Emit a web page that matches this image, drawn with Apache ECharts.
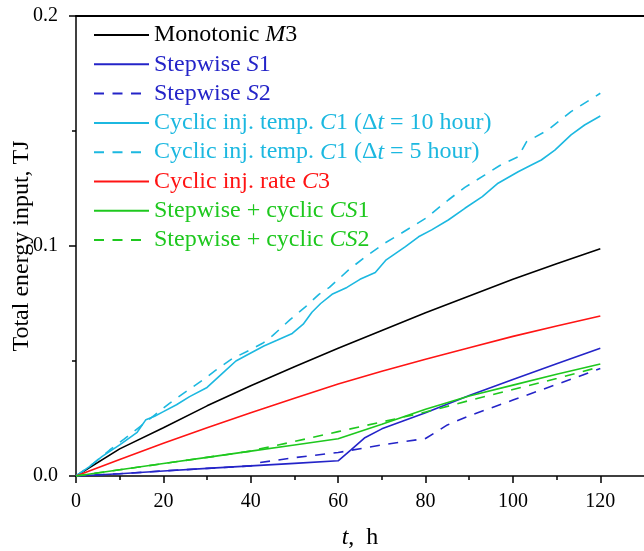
<!DOCTYPE html>
<html>
<head>
<meta charset="utf-8">
<script src="https://cdn.jsdelivr.net/npm/echarts@6/dist/echarts.min.js"></script>
<style>
html, body { margin: 0; padding: 0; background: #fff; overflow: hidden; }
#chart { width: 644px; height: 551px; }
</style>
</head>
<body>
<div id="chart"></div>
<script>
// Time grid (hours) shared by the smooth cases
const hours = [0, 10, 20, 30, 40, 50, 60, 70, 80, 90, 100, 110, 120];

// Monotonic M3
const m3Values = [0, 0.0118, 0.021, 0.0305, 0.0392, 0.0475, 0.0555, 0.0633, 0.071, 0.0783, 0.0855, 0.0923, 0.0988];

// Cyclic injection rate C3
const c3Values = [0, 0.0072, 0.0142, 0.021, 0.0275, 0.0338, 0.040, 0.0455, 0.0508, 0.0558, 0.0607, 0.0652, 0.0696];

// Stepwise S1
const s1Hours = [0, 10, 20, 30, 40, 50, 60, 63, 66, 70, 80, 90, 100, 110, 120];
const s1Values = [0, 0.001, 0.0022, 0.0033, 0.0044, 0.0055, 0.0066, 0.0115, 0.0165, 0.0205, 0.0275, 0.035, 0.042, 0.0488, 0.0555];

// Stepwise S2
const s2Hours = [0, 10, 20, 30, 40, 42, 50, 60, 66, 70, 80, 85, 90, 100, 110, 120];
const s2Values = [0, 0.001, 0.0022, 0.0033, 0.0044, 0.0058, 0.008, 0.0102, 0.0122, 0.0135, 0.0163, 0.0222, 0.0262, 0.033, 0.0398, 0.0467];

// Stepwise + cyclic CS1
const cs1Values = [0, 0.0027, 0.0054, 0.0081, 0.0108, 0.0135, 0.0162, 0.0225, 0.029, 0.0348, 0.0395, 0.0442, 0.0487];

// Stepwise + cyclic CS2
const cs2Hours = [0, 10, 20, 30, 40, 43, 50, 60, 70, 80, 90, 100, 110, 120];
const cs2Values = [0, 0.0027, 0.0054, 0.0081, 0.0108, 0.0122, 0.015, 0.0193, 0.0235, 0.0278, 0.0328, 0.0376, 0.0424, 0.0475];

// Cyclic injection temperature C1, period 10 h
const c1aHours = [0, 3, 6, 10, 14, 16, 18, 20, 23, 26, 30, 32, 34, 36.6, 40, 43, 46, 49.5, 52, 54, 56, 58.6, 62, 65, 68.5, 71, 75.4, 78.4, 81.4, 85.2, 89, 93, 96.6, 101.2, 104, 106.5, 109.6, 113.3, 116.4, 120];
const c1aValues = [0, 0.004, 0.0085, 0.0135, 0.019, 0.0245, 0.026, 0.028, 0.031, 0.0345, 0.0385, 0.042, 0.0455, 0.05, 0.0535, 0.0565, 0.059, 0.062, 0.066, 0.0712, 0.075, 0.079, 0.082, 0.0855, 0.0885, 0.094, 0.0997, 0.104, 0.107, 0.1113, 0.1164, 0.1215, 0.1273, 0.1323, 0.135, 0.1374, 0.1417, 0.1483, 0.1526, 0.1565];

// Cyclic injection temperature C1, period 5 h
const c1bHours = [0, 4, 7.7, 11, 14.6, 18, 21.4, 25, 29, 32, 35.9, 39, 42.7, 45, 49, 52.5, 55.6, 58, 62.4, 66, 70.8, 74, 76.9, 80, 85.2, 89, 93.6, 97, 101.2, 103.1, 108, 113.3, 120];
const c1bValues = [0, 0.0055, 0.0113, 0.016, 0.0214, 0.0265, 0.0316, 0.0365, 0.0417, 0.046, 0.0512, 0.054, 0.0577, 0.061, 0.068, 0.0735, 0.079, 0.082, 0.0896, 0.095, 0.1014, 0.105, 0.1084, 0.112, 0.12, 0.1255, 0.1309, 0.135, 0.1388, 0.1453, 0.1504, 0.1584, 0.1664];

// Axis tick positions
const xMajorTicks = [0, 20, 40, 60, 80, 100, 120];
const xMinorTicks = [10, 30, 50, 70, 90, 110];

const serif = '"Liberation Serif", "Times New Roman", serif';
const BLACK = '#000000', BLUE = '#2424c8', CYAN = '#1cb8e0', RED = '#ff1414', GREEN = '#1ec81e';
const DASH = [10, 8.5];

function pairs(xs, ys) { return xs.map((x, i) => [x, ys[i]]); }

const seriesDefs = [
  { name: 'Monotonic M3', label: 'Monotonic {i|M}3', color: BLACK, dash: 'solid', data: pairs(hours, m3Values) },
  { name: 'Stepwise S1', label: 'Stepwise {i|S}1', color: BLUE, dash: 'solid', data: pairs(s1Hours, s1Values) },
  { name: 'Stepwise S2', label: 'Stepwise {i|S}2', color: BLUE, dash: DASH, data: pairs(s2Hours, s2Values) },
  { name: 'C1 10h', label: 'Cyclic inj. temp. {i|C}1 (Δ{i|t} = 10 hour)', color: CYAN, dash: 'solid', data: pairs(c1aHours, c1aValues) },
  { name: 'C1 5h', label: 'Cyclic inj. temp. {i|C}1 (Δ{i|t} = 5 hour)', color: CYAN, dash: DASH, data: pairs(c1bHours, c1bValues) },
  { name: 'Cyclic inj. rate C3', label: 'Cyclic inj. rate {i|C}3', color: RED, dash: 'solid', data: pairs(hours, c3Values) },
  { name: 'CS1', label: 'Stepwise + cyclic {i|CS}1', color: GREEN, dash: 'solid', data: pairs(hours, cs1Values) },
  { name: 'CS2', label: 'Stepwise + cyclic {i|CS}2', color: GREEN, dash: DASH, data: pairs(cs2Hours, cs2Values) }
];

const labelByName = {};
seriesDefs.forEach(d => { labelByName[d.name] = d.label; });

const chart = echarts.init(document.getElementById('chart'), null, { renderer: 'canvas' });

const axisLineStyle = { color: '#000', width: 1.5 };

chart.setOption({
  backgroundColor: '#fff',
  animation: false,
  grid: { left: 76, right: 0, top: 16, bottom: 75, containLabel: false, outerBoundsMode: 'none' },
  legend: {
    orient: 'vertical',
    left: 88,
    top: 18,
    itemWidth: 55,
    itemHeight: 14,
    itemGap: 5.3,
    itemStyle: { opacity: 0 },
    textStyle: {
      fontFamily: serif,
      fontSize: 24,
      lineHeight: 24,
      rich: { i: { fontFamily: serif, fontSize: 24, lineHeight: 24, fontStyle: 'italic' } }
    },
    data: seriesDefs.map(d => ({ name: d.name, textStyle: { color: d.color } })),
    formatter: name => labelByName[name]
  },
  xAxis: [
    {
      type: 'value', min: 0, max: 130, position: 'bottom',
      axisLine: { onZero: false, lineStyle: axisLineStyle },
      axisTick: { show: true, length: 7, lineStyle: axisLineStyle, customValues: xMajorTicks },
      axisLabel: { color: '#000', fontFamily: serif, fontSize: 20, margin: 16, customValues: xMajorTicks },
      splitLine: { show: false },
      name: '{i|t},  h',
      nameLocation: 'middle',
      nameGap: 50,
      nameMoveOverlap: false,
      nameTextStyle: {
        color: '#000', fontFamily: serif, fontSize: 24,
        rich: { i: { fontFamily: serif, fontSize: 24, fontStyle: 'italic', color: '#000' } }
      }
    },
    {
      type: 'value', min: 0, max: 130, position: 'bottom',
      axisLine: { show: false },
      axisTick: { show: true, length: 4, lineStyle: axisLineStyle, customValues: xMinorTicks },
      axisLabel: { show: false },
      splitLine: { show: false }
    },
    {
      type: 'value', min: 0, max: 130, position: 'top',
      axisLine: { show: true, lineStyle: { color: '#000', width: 2 } },
      axisTick: { show: false },
      axisLabel: { show: false },
      splitLine: { show: false }
    }
  ],
  yAxis: {
    type: 'value', min: 0, max: 0.2, interval: 0.1,
    axisLine: { show: true, onZero: false, lineStyle: axisLineStyle },
    axisTick: { show: true, length: 7, lineStyle: axisLineStyle },
    minorTick: { show: true, splitNumber: 2, length: 4, lineStyle: axisLineStyle },
    axisLabel: { color: '#000', fontFamily: serif, fontSize: 20, margin: 18, formatter: v => v.toFixed(1) },
    splitLine: { show: false },
    name: 'Total energy input, TJ',
    nameLocation: 'middle',
    nameGap: 42,
    nameMoveOverlap: false,
    nameTextStyle: { color: '#000', fontFamily: serif, fontSize: 24 }
  },
  series: seriesDefs.map(d => ({
    name: d.name,
    type: 'line',
    xAxisIndex: 0,
    data: d.data,
    symbol: 'none',
    smooth: false,
    color: d.color,
    lineStyle: { color: d.color, width: 1.6, type: d.dash },
    emphasis: { disabled: true }
  }))
});
</script>
</body>
</html>
